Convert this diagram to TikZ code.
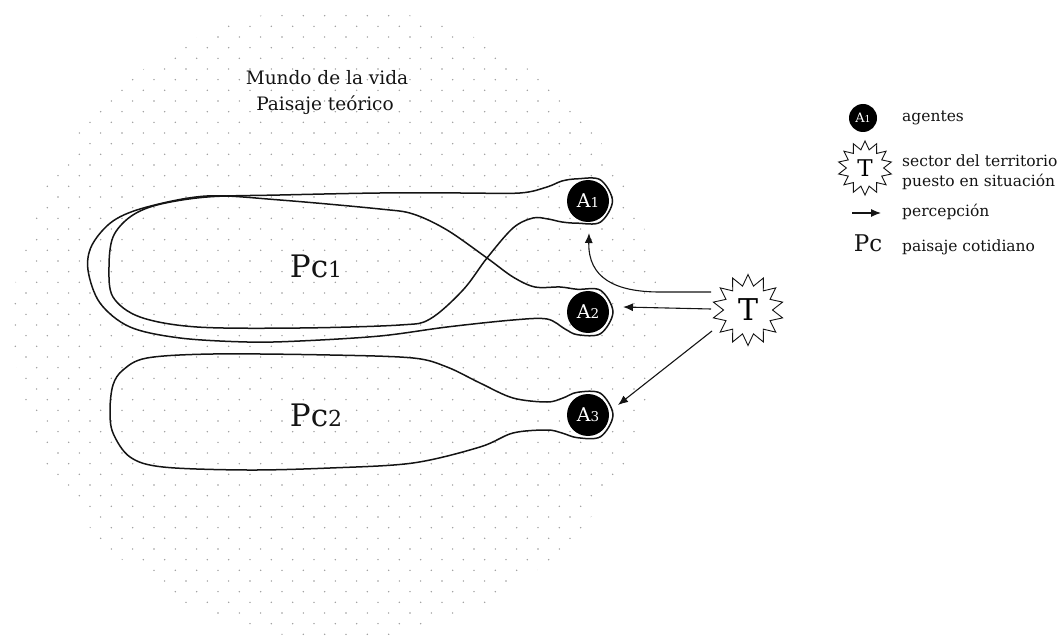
\documentclass[tikz,border=0pt]{standalone}
\usepackage{fontspec}
\setmainfont{DejaVu Serif}
\usetikzlibrary{shapes.geometric,arrows.meta}
\definecolor{dotc}{gray}{0.6}
\definecolor{ink}{gray}{0.08}
\newcommand{\osdig}[2]{{\fontsize{#1}{#1}\selectfont #2}}
\begin{document}
\begin{tikzpicture}[x=1pt,y=-1pt,
  loopline/.style={draw=ink,line width=1.5pt},
  agent/.style={circle,fill=black,text=white,minimum size=42pt,inner sep=0pt,font=\fontsize{19}{20}\selectfont},
  starnode/.style={star,star points=14,star point ratio=1.45,draw=ink,line width=0.9pt,fill=white,inner sep=0pt},
  perc/.style={draw=ink,line width=1.1pt,-{Latex[length=10pt,width=8pt]}},
  lbl/.style={text=ink,inner sep=0pt},
  legtext/.style={lbl,anchor=base west,font=\fontsize{15.5}{18}\selectfont}
]
\useasboundingbox (0,0) rectangle (1061,639);
% dotted background (Mundo de la vida)
\begin{scope}
\clip (336,323) ellipse [x radius=323, y radius=316];
\foreach \n in {0,...,60}{
  \pgfmathsetmacro\yy{5+10.667*\n}
  \pgfmathsetmacro\off{mod(\n+1,2)*10.667}
  \foreach \k in {0,...,31}{
    \fill[dotc] ({4.67+\off+21.333*\k},\yy) circle[radius=0.8];
  }
}
\end{scope}
% title
\node[lbl,anchor=base,font=\fontsize{18.5}{22}\selectfont] (m1) at (327,85) {Mundo de la vida};
\node[lbl,anchor=base,font=\fontsize{18.5}{22}\selectfont] (m2) at (325,111) {Paisaje teórico};
% loop of A1
\draw[loopline] plot[smooth cycle,tension=0.55] coordinates {
 (577.6,178.8) (600.3,179.8) (612.5,201) (600.3,222.2) (577.6,223.2)
 (562,222) (548,219) (533,218) (513,228) (487,258) (463,290) (430,319) (400,325)
 (300,328) (197,327) (140,317) (113,297) (109,267) (113,237) (130,217) (157,205)
 (207,197) (280,195) (380,193) (460,193) (520,193) (547,187) (562,181)};
% loop of A2
\draw[loopline] plot[smooth cycle,tension=0.55] coordinates {
 (577.4,289.3) (600.5,290.3) (613,312) (600.5,333.7) (577.4,334.7)
 (565,329) (547,319) (513,320) (447,327) (380,336) (300,341) (247,342) (180,338)
 (130,327) (100,303) (88,270) (92,245) (113,221) (147,207) (207,196) (280,200)
 (380,209) (413,214) (447,230) (487,258) (513,277) (535,287) (560,287)};
% loop of A3
\draw[loopline] plot[smooth cycle,tension=0.55] coordinates {
 (577.4,392.3) (600.5,393.3) (613,415) (600.5,436.7) (577.4,437.7)
 (562,433) (547,430) (513,433) (480,447) (413,463) (330,468) (247,470) (163,467)
 (130,457) (113,433) (110,410) (113,385) (123,370) (147,358) (213,354) (330,355)
 (413,358) (447,367) (480,383) (513,398) (547,402) (563,398)};
% agents
\node[agent] (A1) at (588,201) {A\osdig{13.5}{1}};
\node[agent] (A2) at (588,312) {A\osdig{13.5}{2}};
\node[agent] (A3) at (588,415) {A\osdig{13.5}{3}};
% landscapes
\node[lbl,anchor=base,font=\fontsize{31}{34}\selectfont] (pc1) at (316,278) {Pc\osdig{22}{1}};
\node[lbl,anchor=base,font=\fontsize{31}{34}\selectfont] (pc2) at (316,426) {Pc\osdig{22}{2}};
% territory
\node[starnode,minimum size=71pt,font=\fontsize{30}{32}\selectfont] (T) at (748,310) {T};
\coordinate (s1) at (711,292);
\coordinate (s2) at (711,309);
\coordinate (s3) at (712,331);
\coordinate (e1) at (589,233);
\coordinate (e2) at (623,307);
\coordinate (e3) at (618,405);
\coordinate (k1) at (660,292);
\draw[perc] (s1) -- (k1) .. controls (615,292) and (588,278) .. (e1);
\draw[perc] (s2) -- (e2);
\draw[perc] (s3) -- (e3);
% legend
\node[agent,minimum size=28pt,font=\fontsize{13}{14}\selectfont] (LA) at (863,118) {A\osdig{9.5}{1}};
\node[legtext] (la) at (902,122) {agentes};
\node[starnode,minimum size=54pt,font=\fontsize{23}{24}\selectfont] (LT) at (865,168) {T};
\node[legtext] (lt1) at (902,167) {sector del territorio};
\node[legtext] (lt2) at (902,187) {puesto en situación};
\coordinate (lp0) at (852,213);
\coordinate (lp1) at (881,213);
\draw[perc] (lp0) -- (lp1);
\node[legtext] (lp) at (902,217) {percepción};
\node[lbl,anchor=base,font=\fontsize{23}{24}\selectfont] (LPc) at (868,252) {Pc};
\node[legtext] (lpc) at (902,252) {paisaje cotidiano};
\end{tikzpicture}
\end{document}
